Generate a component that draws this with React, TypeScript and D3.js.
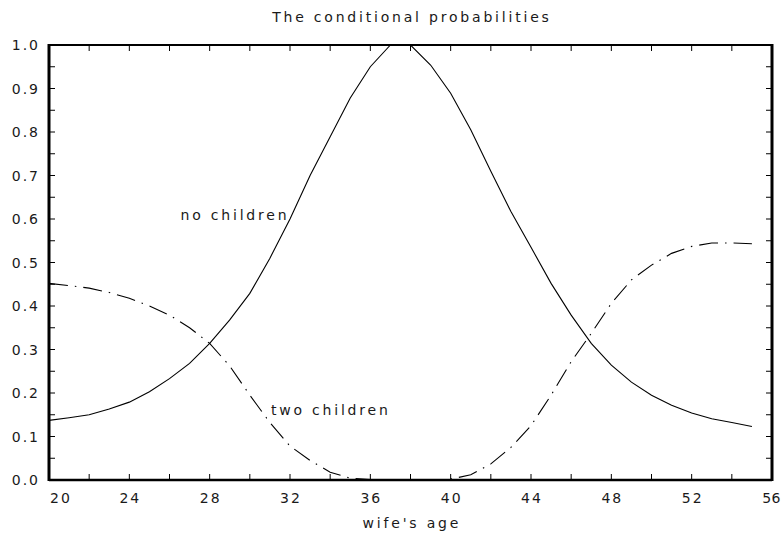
import * as d3 from "d3";

const ages = [
  20, 21, 22, 23, 24, 25, 26, 27, 28, 29, 30, 31, 32, 33, 34, 35, 36, 37, 38,
  39, 40, 41, 42, 43, 44, 45, 46, 47, 48, 49, 50, 51, 52, 53, 54, 55,
];
const noChildren = [
  0.137, 0.143, 0.15, 0.163, 0.179, 0.203, 0.233, 0.268, 0.314, 0.368, 0.429,
  0.51, 0.6, 0.7, 0.789, 0.878, 0.95, 1.0, 1.0, 0.954, 0.889, 0.805, 0.71,
  0.617, 0.535, 0.452, 0.379, 0.314, 0.264, 0.225, 0.195, 0.172, 0.154, 0.141,
  0.132, 0.123,
];
const twoChildren = [
  0.452, 0.447, 0.441, 0.431, 0.418, 0.4, 0.379, 0.35, 0.314, 0.262, 0.195,
  0.132, 0.078, 0.045, 0.018, 0.004, 0.001, 0, 0, 0, 0.002, 0.012, 0.037, 0.075,
  0.125, 0.195, 0.272, 0.337, 0.406, 0.46, 0.494, 0.521, 0.537, 0.545, 0.545,
  0.543,
];
const xTickLabels = [20, 24, 28, 32, 36, 40, 44, 48, 52, 56];
const yTickLabels = [0, 0.1, 0.2, 0.3, 0.4, 0.5, 0.6, 0.7, 0.8, 0.9, 1.0];

const W = 782;
const H = 535;
const margin = { top: 45, right: 10, bottom: 55, left: 49 };
const font = "'DejaVu Sans', sans-serif";
const ls = 2.8; // wide, plotter-like letter spacing

export default function App() {
  const x = d3
    .scaleLinear()
    .domain([20, 56])
    .range([margin.left, W - margin.right]);
  const y = d3
    .scaleLinear()
    .domain([0, 1])
    .range([H - margin.bottom, margin.top]);

  const line = d3
    .line<number>()
    .x((_, i) => x(ages[i]))
    .y((d) => y(d));

  const minorX = d3.range(20, 56.01, 2);
  const minorY = d3.range(0, 1.001, 0.05);
  const [x0, x1] = x.range();
  const [y0, y1] = y.range();
  const tick = 6;
  const last = xTickLabels.length - 1;

  const txt = { fontFamily: font, fontSize: 14, fill: "#1a1a1a" };

  return (
    <div style={{ position: "fixed", left: 0, top: 0 }}>
      <svg width={W} height={H} style={{ display: "block", background: "#fff" }}>
        <text x={(x0 + x1) / 2 + ls / 2} y={22} textAnchor="middle" letterSpacing={ls} {...txt}>
          The conditional probabilities
        </text>

        {/* curves */}
        <path d={line(noChildren) ?? ""} fill="none" stroke="#000" strokeWidth={1.1} />
        <path
          d={line(twoChildren) ?? ""}
          fill="none"
          stroke="#000"
          strokeWidth={1.1}
          strokeDasharray="19,7,1.5,7"
        />

        {/* ticks */}
        {minorX.map((v) => (
          <g key={"tx" + v}>
            <line x1={x(v)} x2={x(v)} y1={y0} y2={y0 - tick} stroke="#000" />
            <line x1={x(v)} x2={x(v)} y1={y1} y2={y1 + tick} stroke="#000" />
          </g>
        ))}
        {minorY.map((v) => (
          <g key={"ty" + v}>
            <line x1={x0} x2={x0 + tick} y1={y(v)} y2={y(v)} stroke="#000" />
            <line x1={x1} x2={x1 - tick} y1={y(v)} y2={y(v)} stroke="#000" />
          </g>
        ))}

        {/* frame */}
        <line x1={x0} x2={x1} y1={y1} y2={y1} stroke="#000" strokeWidth={2} />
        <line x1={x0} x2={x1} y1={y0} y2={y0} stroke="#000" strokeWidth={2.5} />
        <line x1={x0} x2={x0} y1={y1 - 1} y2={y0 + 1} stroke="#000" strokeWidth={3} />
        <line x1={x1} x2={x1} y1={y1 - 1} y2={y0 + 1} stroke="#000" strokeWidth={3} />

        {/* tick labels */}
        {xTickLabels.map((v, i) => (
          <text
            key={"lx" + v}
            x={i === 0 ? x(v) + 1 : i === last ? W - 1 : x(v) + 1}
            y={y0 + 23}
            textAnchor={i === 0 ? "start" : i === last ? "end" : "middle"}
            letterSpacing={i === last ? 0.5 : 2}
            {...txt}
          >
            {v}
          </text>
        ))}
        {yTickLabels.map((v) => (
          <text
            key={"ly" + v}
            x={x0 - 9}
            y={y(v) + 5}
            textAnchor="end"
            letterSpacing={2}
            {...txt}
          >
            {v.toFixed(1)}
          </text>
        ))}

        <text x={(x0 + x1) / 2 + ls / 2} y={y0 + 48} textAnchor="middle" letterSpacing={ls} {...txt}>
          wife's age
        </text>

        {/* curve labels */}
        <text x={x(26.55)} y={y(0.61) + 5} letterSpacing={ls} {...txt}>
          no children
        </text>
        <text x={x(31.05)} y={y(0.161) + 5} letterSpacing={ls} {...txt}>
          two children
        </text>
      </svg>
    </div>
  );
}
